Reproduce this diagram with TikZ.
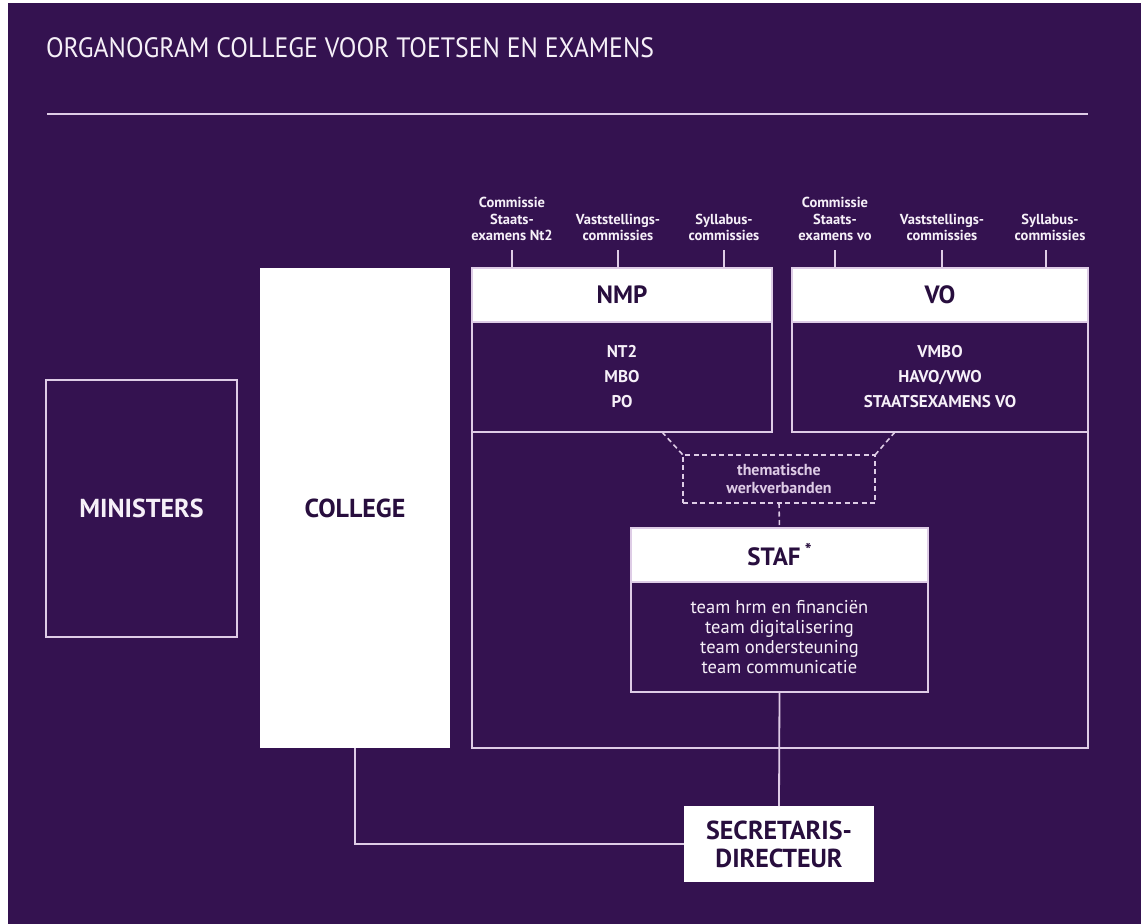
\documentclass[tikz,border=0pt]{standalone}
\usepackage{fontspec}
\setmainfont{PT Sans}
\definecolor{bg}{RGB}{52,18,80}
\definecolor{ln}{RGB}{222,204,230}
\definecolor{dk}{RGB}{40,14,62}
\definecolor{tx}{RGB}{246,240,248}
\begin{document}
\begin{tikzpicture}[x=1pt,y=-1pt,
  every node/.style={inner sep=0pt,outer sep=0pt},
  ln/.style={draw=ln,line width=1.8pt},
  whitebox/.style={ln,fill=white,text=dk,font=\bfseries\fontsize{26}{28}\selectfont,align=center,anchor=north west},
  darkbox/.style={ln,fill=bg,text=tx,anchor=north west,align=center},
  toplab/.style={text=tx,font=\bfseries\fontsize{14.5}{16.5}\selectfont,align=center,anchor=south},
  dsh/.style={draw=ln,line width=1.6pt,dash pattern=on 5pt off 3.5pt},
]
\useasboundingbox (0,0) rectangle (1141,924);
\fill[white] (0,0) rectangle (1141,924);
\fill[bg] (8,3) rectangle (1141,924);

% title and rule
\node[anchor=base west,text=tx,font=\fontsize{28}{30}\selectfont] (title) at (46,57) {\scalebox{0.92}[1]{ORGANOGRAM COLLEGE VOOR TOETSEN EN EXAMENS}};
\draw[ln] (47,114) -- (1088,114);

% left boxes
\node[darkbox,minimum width=191pt,minimum height=257pt,font=\bfseries\fontsize{26}{28}\selectfont] (min) at (46,380) {MINISTERS};
\node[whitebox,minimum width=190pt,minimum height=480pt,draw=none] (col) at (260,268) {COLLEGE};

% container (open between NMP and VO)
\draw[ln] (772,432) -- (472,432) -- (472,748) -- (1088,748) -- (1088,432) -- (792,432);

% NMP
\node[whitebox,minimum width=300pt,minimum height=54pt,font=\bfseries\fontsize{25}{26}\selectfont] (nmph) at (472,268) {NMP};
\node[darkbox,minimum width=300pt,minimum height=110pt,font=\bfseries\fontsize{17}{25}\selectfont] (nmpb) at (472,322) {NT2\\MBO\\PO};
% VO
\node[whitebox,minimum width=296pt,minimum height=54pt,font=\bfseries\fontsize{25}{26}\selectfont] (voh) at (792,268) {VO};
\node[darkbox,minimum width=296pt,minimum height=110pt,font=\bfseries\fontsize{17}{25}\selectfont] (vob) at (792,322) {VMBO\\HAVO/VWO\\STAATSEXAMENS VO};

% top labels
\node[toplab] (l1) at (512,241) {Commissie\\Staats-\\examens Nt2};
\node[toplab] (l2) at (618,241) {Vaststellings-\\commissies};
\node[toplab] (l3) at (724,241) {Syllabus-\\commissies};
\node[toplab] (l4) at (835,241) {Commissie\\Staats-\\examens vo};
\node[toplab] (l5) at (942,241) {Vaststellings-\\commissies};
\node[toplab] (l6) at (1050,241) {Syllabus-\\commissies};
\foreach \l/\b/\xx in {l1/nmph/512,l2/nmph/618,l3/nmph/724,l4/voh/835,l5/voh/942,l6/voh/1046}
  \draw[ln] (\xx,250) -- (\xx,0 |- \b.north);

% thematische werkverbanden
\node[dsh,anchor=north west,minimum width=192pt,minimum height=48pt,text=ln,align=center,font=\bfseries\fontsize{16}{18}\selectfont] (them) at (683,455) {thematische\\werkverbanden};
\draw[dsh] ([xshift=-110pt]nmpb.south east) -- (them.north west);
\draw[dsh] ([xshift=103pt]vob.south west) -- (them.north east);

% STAF
\node[whitebox,minimum width=297pt,minimum height=54pt,font=\bfseries\fontsize{25}{26}\selectfont] (stafh) at (631,528) {STAF\,\raisebox{9pt}{\fontsize{18}{18}\selectfont*}};
\node[darkbox,minimum width=297pt,minimum height=110pt,font=\fontsize{18.5}{20}\selectfont] (stafb) at (631,582) {team hrm en financiën\\team digitalisering\\team ondersteuning\\team communicatie};
\draw[dsh] (them.south) -- (stafh.north);

% secretaris-directeur
\node[whitebox,minimum width=190pt,minimum height=76pt,draw=none] (sec) at (684,806) {SECRETARIS-\\DIRECTEUR};
\draw[ln] (stafb.south) -- (sec.north);
\draw[ln] (col.south) |- (sec.west);
\end{tikzpicture}
\end{document}
